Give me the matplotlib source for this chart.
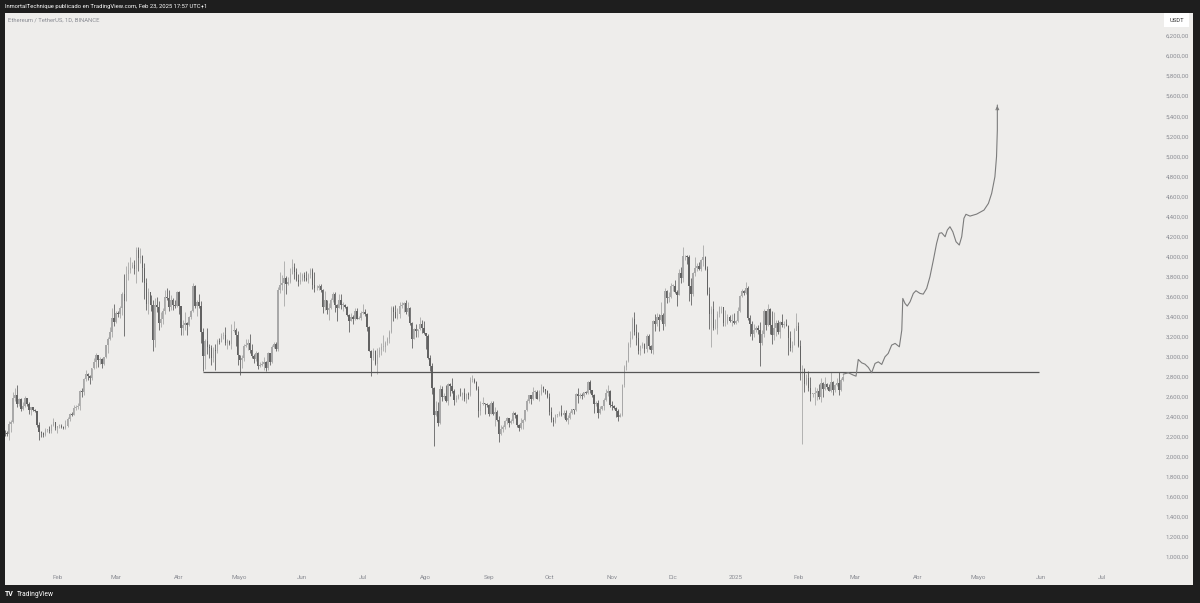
import matplotlib
matplotlib.use("Agg")
import matplotlib.pyplot as plt
import matplotlib.dates as mdates
from matplotlib.patches import Rectangle
import numpy as np
import pandas as pd

plt.rcParams['font.family'] = ['Roboto', 'DejaVu Sans']

# ETH/USDT diario, 5 ene 2024 -> 23 feb 2025 (apertura = cierre anterior)
first_open = 2268
closes = [
    # ene 2024 (desde el 5)
    2268, 2240, 2222, 2330, 2344, 2584, 2618, 2525, 2576, 2472, 2511, 2587, 2528, 2467,
    2492, 2470, 2456, 2313, 2242, 2236, 2218, 2266, 2268, 2256, 2317, 2344, 2283,
    # feb
    2305, 2310, 2295, 2290, 2302, 2372, 2424, 2419, 2485, 2500, 2507, 2660, 2641, 2779, 2824,
    2805, 2785, 2881, 2945, 3013, 2966, 2973, 2921, 2993, 3111, 3178, 3243, 3385, 3340,
    # mar
    3433, 3420, 3488, 3629, 3553, 3820, 3868, 3881, 3910, 3877, 4067, 3980, 4005, 3880, 3733, 3523,
    3644, 3517, 3161, 3516, 3492, 3335, 3377, 3452, 3591, 3587, 3498, 3561, 3511, 3507, 3646,
    # abr
    3505, 3280, 3311, 3331, 3318, 3396, 3453, 3700, 3505, 3544, 3505, 3244, 3006, 3155, 3100,
    3083, 2985, 3065, 3056, 3155, 3147, 3202, 3219, 3139, 3155, 3130, 3253, 3264, 3217, 3014,
    # may
    2970, 2989, 3103, 3117, 3137, 3064, 3006, 2975, 3037, 2910, 2912, 2930, 2950, 2881, 3037, 2945,
    3093, 3123, 3072, 3663, 3713, 3737, 3784, 3729, 3749, 3826, 3891, 3844, 3767, 3746, 3760,
    # jun
    3813, 3780, 3767, 3810, 3866, 3712, 3680, 3681, 3705, 3667, 3498, 3560, 3469, 3480, 3566,
    3620, 3510, 3483, 3560, 3516, 3517, 3490, 3418, 3353, 3396, 3370, 3450, 3375, 3380, 3433,
    # jul
    3440, 3422, 3290, 3060, 2985, 3060, 2930, 3018, 3065, 3100, 3100, 3135, 3175, 3245, 3485, 3440,
    3385, 3425, 3505, 3517, 3535, 3440, 3480, 3335, 3172, 3274, 3250, 3270, 3320, 3280, 3230,
    # ago
    3200, 2990, 2905, 2690, 2420, 2460, 2340, 2680, 2600, 2610, 2555, 2725, 2705, 2660, 2570, 2590,
    2615, 2612, 2635, 2575, 2630, 2620, 2765, 2765, 2745, 2680, 2460, 2530, 2530, 2525, 2513,
    # sep
    2425, 2540, 2425, 2450, 2370, 2225, 2275, 2300, 2360, 2390, 2340, 2360, 2440, 2420, 2315,
    2290, 2340, 2370, 2465, 2560, 2615, 2580, 2650, 2650, 2580, 2630, 2695, 2675, 2660, 2600,
    # oct
    2445, 2365, 2350, 2415, 2415, 2440, 2420, 2440, 2370, 2385, 2440, 2475, 2470, 2630, 2605, 2610,
    2605, 2645, 2640, 2745, 2665, 2620, 2525, 2535, 2440, 2480, 2505, 2570, 2635, 2660, 2515,
    # nov
    2510, 2490, 2455, 2400, 2420, 2720, 2895, 2960, 3125, 3180, 3370, 3245, 3185, 3060, 3105,
    3130, 3075, 3205, 3105, 3070, 3355, 3325, 3395, 3360, 3415, 3325, 3655, 3580, 3595, 3705,
    # dic
    3705, 3640, 3615, 3835, 3785, 4000, 4005, 3995, 3705, 3628, 3830, 3880, 3905, 3875, 3960, 3990,
    3875, 3625, 3420, 3475, 3280, 3280, 3420, 3490, 3490, 3330, 3335, 3395, 3355, 3355, 3330,
    # ene 2025
    3355, 3450, 3605, 3655, 3635, 3685, 3380, 3325, 3220, 3265, 3280, 3265, 3135, 3225, 3450, 3310,
    3475, 3310, 3215, 3285, 3330, 3245, 3340, 3310, 3320, 3305, 3180, 3085, 3115, 3250, 3300,
    # feb 2025
    3110, 2865, 2880, 2730, 2785, 2690, 2625, 2630, 2635, 2660, 2600, 2740, 2675, 2725, 2695,
    2660, 2745, 2670, 2715, 2735, 2665, 2765, 2800,
]
highs = [
    2283, 2270, 2260, 2355, 2370, 2645, 2690, 2717, 2590, 2585, 2550, 2610, 2590, 2550,
    2500, 2495, 2480, 2460, 2350, 2260, 2245, 2285, 2280, 2305, 2325, 2390, 2350,
    2310, 2325, 2330, 2310, 2365, 2395, 2435, 2450, 2520, 2515, 2535, 2665, 2685, 2785, 2865,
    2840, 2812, 2890, 2985, 3035, 2995, 3000, 2990, 3000, 3115, 3190, 3290, 3485, 3520,
    3450, 3450, 3500, 3640, 3825, 3900, 3945, 3995, 3940, 3960, 4090, 4095, 4083, 4015, 3935, 3780,
    3680, 3615, 3560, 3585, 3590, 3550, 3440, 3480, 3660, 3680, 3660, 3610, 3585, 3565, 3655,
    3650, 3505, 3365, 3440, 3345, 3405, 3460, 3730, 3715, 3560, 3620, 3550, 3285, 3170, 3280,
    3125, 3120, 3095, 3125, 3170, 3180, 3235, 3240, 3290, 3175, 3165, 3325, 3355, 3285, 3250,
    3020, 3015, 3125, 3170, 3170, 3220, 3130, 3025, 3060, 3050, 2945, 2955, 2995, 2955, 3045, 3040,
    3120, 3145, 3145, 3690, 3840, 3810, 3950, 3800, 3790, 3880, 3975, 3930, 3880, 3825, 3840,
    3835, 3845, 3850, 3830, 3888, 3880, 3840, 3715, 3720, 3720, 3670, 3655, 3560, 3535, 3580,
    3645, 3640, 3520, 3625, 3625, 3545, 3525, 3505, 3425, 3430, 3410, 3480, 3480, 3400, 3455,
    3525, 3470, 3435, 3305, 3065, 3085, 3065, 3085, 3100, 3135, 3210, 3155, 3195, 3265, 3500, 3500,
    3515, 3485, 3545, 3540, 3545, 3560, 3540, 3490, 3340, 3285, 3325, 3275, 3395, 3365, 3350,
    3235, 3220, 3015, 2935, 2700, 2555, 2550, 2720, 2710, 2640, 2720, 2740, 2740, 2785, 2680, 2615,
    2630, 2690, 2650, 2690, 2635, 2645, 2800, 2820, 2790, 2760, 2705, 2555, 2600, 2540, 2535,
    2530, 2560, 2555, 2495, 2465, 2410, 2315, 2320, 2370, 2395, 2390, 2375, 2460, 2445, 2430,
    2325, 2390, 2375, 2470, 2575, 2620, 2615, 2700, 2670, 2670, 2665, 2725, 2705, 2680, 2670,
    2640, 2500, 2400, 2425, 2430, 2460, 2520, 2470, 2470, 2420, 2460, 2480, 2480, 2640, 2690, 2640,
    2640, 2650, 2660, 2760, 2770, 2665, 2625, 2560, 2570, 2510, 2510, 2590, 2680, 2720, 2665,
    2560, 2520, 2495, 2480, 2440, 2730, 2915, 2970, 3150, 3250, 3390, 3445, 3325, 3240, 3120,
    3150, 3140, 3225, 3220, 3120, 3365, 3425, 3430, 3420, 3545, 3430, 3680, 3660, 3640, 3735,
    3725, 3760, 3665, 3875, 3890, 4090, 4015, 4015, 4010, 3785, 3845, 3990, 3935, 3945, 3970, 4110,
    4005, 3900, 3690, 3500, 3550, 3375, 3450, 3500, 3500, 3495, 3465, 3420, 3410, 3420, 3430,
    3365, 3490, 3615, 3675, 3665, 3745, 3700, 3415, 3350, 3325, 3300, 3310, 3340, 3260, 3470, 3445,
    3525, 3480, 3450, 3440, 3360, 3360, 3350, 3425, 3350, 3370, 3310, 3250, 3155, 3285, 3435,
    3340, 3160, 2920, 2890, 2830, 2855, 2800, 2640, 2700, 2690, 2730, 2790, 2745, 2795, 2735,
    2725, 2850, 2755, 2730, 2790, 2845, 2790, 2830,
]
lows = [
    2211, 2210, 2208, 2165, 2250, 2335, 2560, 2500, 2505, 2460, 2470, 2497, 2510, 2425,
    2420, 2460, 2450, 2300, 2168, 2195, 2200, 2205, 2250, 2240, 2235, 2310, 2270,
    2240, 2285, 2285, 2280, 2280, 2295, 2360, 2410, 2415, 2470, 2480, 2470, 2600, 2620, 2760,
    2765, 2730, 2770, 2875, 2890, 2900, 2925, 2890, 2915, 2990, 3040, 3160, 3190, 3300,
    3330, 3390, 3380, 3415, 3200, 3550, 3760, 3830, 3880, 3820, 3735, 3850, 3935, 3740, 3570, 3465,
    3420, 3455, 3060, 3100, 3445, 3260, 3290, 3325, 3420, 3560, 3450, 3465, 3460, 3485, 3495,
    3420, 3215, 3210, 3260, 3210, 3305, 3375, 3440, 3480, 3400, 3485, 3140, 2852, 2875, 3030,
    2985, 2920, 2950, 2865, 3040, 3130, 3145, 3175, 3115, 3075, 3120, 3075, 3240, 3110, 2920,
    2815, 2890, 2955, 3100, 3070, 3040, 2990, 2940, 2955, 2880, 2895, 2905, 2865, 2860, 2865, 2920,
    2935, 3090, 3055, 3055, 3635, 3665, 3500, 3620, 3710, 3735, 3820, 3775, 3750, 3700, 3720,
    3750, 3755, 3755, 3735, 3780, 3675, 3640, 3665, 3665, 3640, 3435, 3460, 3425, 3365, 3470,
    3545, 3440, 3355, 3480, 3475, 3450, 3480, 3405, 3240, 3350, 3325, 3365, 3370, 3370, 3360,
    3425, 3400, 3255, 3055, 2810, 2970, 2920, 2825, 3000, 3020, 3055, 3050, 3120, 3140, 3235, 3355,
    3380, 3375, 3380, 3480, 3440, 3420, 3400, 3310, 3090, 3170, 3195, 3190, 3260, 3230, 3225,
    3080, 2975, 2860, 2630, 2111, 2410, 2310, 2330, 2555, 2575, 2550, 2520, 2610, 2640, 2515, 2550,
    2580, 2610, 2570, 2560, 2535, 2580, 2610, 2745, 2735, 2670, 2395, 2420, 2515, 2430, 2500,
    2410, 2430, 2420, 2310, 2360, 2150, 2215, 2250, 2275, 2325, 2300, 2325, 2340, 2385, 2300,
    2255, 2280, 2280, 2360, 2460, 2540, 2525, 2570, 2590, 2575, 2560, 2615, 2645, 2630, 2590,
    2420, 2350, 2310, 2340, 2400, 2405, 2410, 2390, 2355, 2330, 2375, 2425, 2430, 2460, 2535, 2585,
    2580, 2595, 2630, 2630, 2640, 2600, 2440, 2510, 2390, 2430, 2465, 2470, 2560, 2610, 2500,
    2470, 2480, 2400, 2360, 2395, 2410, 2700, 2870, 2950, 3100, 3170, 3210, 3120, 3030, 3020,
    3090, 3040, 3050, 3075, 3040, 3030, 3255, 3300, 3250, 3355, 3260, 3300, 3530, 3540, 3580,
    3650, 3630, 3500, 3610, 3730, 3740, 3960, 3925, 3550, 3515, 3600, 3805, 3855, 3860, 3850, 3905,
    3860, 3615, 3275, 3100, 3260, 3270, 3220, 3390, 3430, 3305, 3300, 3325, 3340, 3305, 3320,
    3320, 3345, 3440, 3590, 3610, 3625, 3360, 3205, 3160, 3190, 3245, 3225, 2910, 3120, 3195, 3265,
    3305, 3220, 3130, 3160, 3200, 3225, 3180, 3295, 3285, 3300, 3020, 3060, 3050, 3115, 3275,
    3100, 2770, 2125, 2650, 2715, 2660, 2560, 2595, 2520, 2570, 2580, 2545, 2600, 2665, 2675,
    2655, 2650, 2620, 2650, 2705, 2620, 2660, 2755,
]
first_day = '2024-01-05'

# soporte horizontal
level = 2850
level_start, level_end = '2024-04-13', '2025-05-31'

# proyección dibujada (días después del 23 feb 2025, precio)
proj_start = '2025-02-23'
proj_days = [0.2, 2.7, 5.2, 6.5, 7.6, 9.3, 10.9, 12.6, 14.2, 15.9, 17.5, 19.2, 20.8, 22.4,
             24.1, 25.8, 27.9, 29.1, 29.6, 30.7, 31.8, 33.2, 34.8, 36.1, 38.1, 39.7, 41.4,
             43.0, 44.7, 46.3, 47.6, 48.8, 50.5, 51.6, 52.9, 54.3, 55.9, 57.5, 58.7, 59.8,
             60.8, 62.8, 66.1, 69.7, 71.9, 73.5, 75.1, 75.9, 76.3, 76.3]
proj_prices = [2824, 2838, 2814, 2804, 2971, 2937, 2924, 2891, 2838, 2931, 2947, 2921, 2997, 3031,
               3114, 3131, 3097, 3264, 3580, 3530, 3504, 3547, 3630, 3657, 3630, 3623, 3680,
               3796, 3963, 4130, 4230, 4236, 4196, 4263, 4296, 4246, 4146, 4113, 4196, 4380,
               4420, 4402, 4422, 4462, 4529, 4629, 4795, 4995, 5261, 5511]

month_ticks = ['2024-02-01', '2024-03-01', '2024-04-01', '2024-05-01', '2024-06-01', '2024-07-01',
               '2024-08-01', '2024-09-01', '2024-10-01', '2024-11-01', '2024-12-01', '2025-01-01',
               '2025-02-01', '2025-03-01', '2025-04-01', '2025-05-01', '2025-06-01', '2025-07-01']
month_labels = ['Feb', 'Mar', 'Abr', 'Mayo', 'Jun', 'Jul', 'Ago', 'Sep', 'Oct', 'Nov', 'Dic',
                '2025', 'Feb', 'Mar', 'Abr', 'Mayo', 'Jun', 'Jul']
price_ticks = list(range(1000, 6201, 200))

header = 'InmortalTechnique publicado en TradingView.com, Feb 23, 2025 17:57 UTC+1'
symbol = 'Ethereum / TetherUS, 1D, BINANCE'

# ---- figura ----
W, H = 1200, 603
DARK = '#1e1e1e'
PANEL = '#eeedeb'
UP = '#a8a8a8'
DOWN = '#626262'
TXT = '#8a8c93'

fig = plt.figure(figsize=(W / 100, H / 100), dpi=100, facecolor=DARK)
fig.patches.append(Rectangle((5 / W, 1 - 585 / H), (1193 - 5) / W, (585 - 13) / H,
                             transform=fig.transFigure, facecolor=PANEL, edgecolor='none', zorder=-1))

ax = fig.add_axes([5 / W, 1 - 570 / H, 1155 / W, 558 / H])
ax.patch.set_visible(False)
for s in ax.spines.values():
    s.set_visible(False)

c = np.array(closes, float)
hi = np.array(highs, float)
lo = np.array(lows, float)
o = np.r_[first_open, c[:-1]]
dates = pd.date_range(first_day, periods=len(c), freq='D')
x = mdates.date2num(dates.to_pydatetime())
up = c >= o
cols = np.where(up, UP, DOWN)

ax.vlines(x, lo, hi, colors=cols, linewidth=0.6, zorder=2)
ax.bar(x, np.maximum(np.abs(c - o), 8), bottom=np.minimum(o, c), width=0.68,
       color=cols, linewidth=0, zorder=3)

ax.hlines(level, mdates.datestr2num(level_start), mdates.datestr2num(level_end),
          color='#555555', linewidth=0.9, zorder=4)

px = mdates.datestr2num(proj_start) + np.array(proj_days)
ax.plot(px, proj_prices, color='#7c7c7c', linewidth=0.8, zorder=4, solid_capstyle='round')
ax.annotate('', xy=(px[-1], proj_prices[-1] + 20), xytext=(px[-1], proj_prices[-1] - 80),
            arrowprops=dict(arrowstyle='->', color='#7c7c7c', lw=0.8, mutation_scale=5))

# escalas calibradas a la imagen
x0 = mdates.datestr2num('2024-01-01')
ax.set_xlim(x0 + 5.12, x0 + 575.65)
ax.set_ylim(868.7, 6439.7)

ax.set_xticks(mdates.datestr2num(month_ticks))
ax.set_xticklabels(month_labels)
ax.tick_params(axis='x', length=0, pad=3.6, labelsize=4.5, labelcolor=TXT)

ax.yaxis.tick_right()
ax.set_yticks(price_ticks)
ax.set_yticklabels([f'{v:,.0f},00' for v in price_ticks])
ax.tick_params(axis='y', length=0, pad=20.9, labelsize=4.4, labelcolor=TXT)
for lab in ax.get_yticklabels():
    lab.set_horizontalalignment('right')

# textos de cabecera y pie
fig.text(5 / W, 1 - 6.5 / H, header, color='white', fontsize=4.2, va='center', ha='left')
fig.text(8 / W, 1 - 20 / H, symbol, color=TXT, fontsize=4.2, va='center', ha='left')

fig.patches.append(Rectangle((1164 / W, 1 - 27 / H), 25 / W, 14 / H, transform=fig.transFigure,
                             facecolor='white', edgecolor='none', zorder=3))
fig.text(1176.5 / W, 1 - 20 / H, 'USDT', color='#333333', fontsize=4.2, va='center', ha='center')

fig.text(5 / W, 1 - 594 / H, 'TV', color='white', fontsize=5, fontweight='bold', va='center')
fig.text(17 / W, 1 - 594 / H, 'TradingView', color='white', fontsize=4.8, va='center')

fig.savefig('out.png', dpi=100, facecolor=DARK)
